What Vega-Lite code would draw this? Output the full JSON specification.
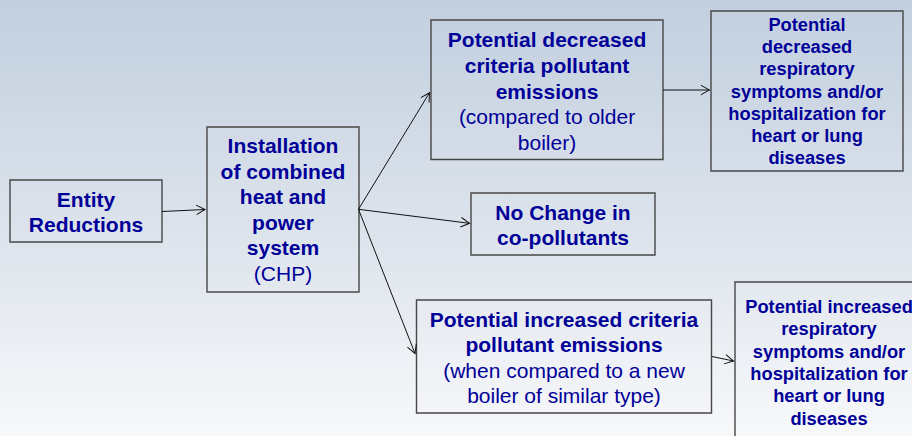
{
  "$schema": "https://vega.github.io/schema/vega-lite/v6.json",
  "width": 912,
  "height": 436,
  "autosize": {"type": "none"},
  "padding": 0,
  "config": {"view": {"stroke": null}},
  "datasets": {
    "boxes": [
      {"id": "entity", "x1": 10, "x2": 162, "y1": 180, "y2": 242},
      {"id": "chp", "x1": 207, "x2": 359, "y1": 127, "y2": 292},
      {"id": "dec_em", "x1": 431, "x2": 663, "y1": 20, "y2": 159.5},
      {"id": "dec_health", "x1": 711, "x2": 903, "y1": 11, "y2": 171},
      {"id": "nochange", "x1": 471, "x2": 655, "y1": 193, "y2": 255},
      {"id": "inc_em", "x1": 416.5, "x2": 711.5, "y1": 300, "y2": 413},
      {"id": "inc_health", "x1": 735, "x2": 925, "y1": 282, "y2": 445}
    ],
    "edges": [
      {"from": "entity", "to": "chp", "x1": 162, "y1": 211.5, "x2": 205, "y2": 209.5},
      {"from": "chp", "to": "dec_em", "x1": 358.5, "y1": 209.3, "x2": 429.5, "y2": 92.7},
      {"from": "chp", "to": "nochange", "x1": 358.5, "y1": 209.3, "x2": 469.5, "y2": 223.3},
      {"from": "chp", "to": "inc_em", "x1": 358.5, "y1": 209.3, "x2": 415, "y2": 353.5},
      {"from": "dec_em", "to": "dec_health", "x1": 663, "y1": 90, "x2": 709.5, "y2": 90},
      {"from": "inc_em", "to": "inc_health", "x1": 712, "y1": 356.5, "x2": 733.5, "y2": 361}
    ],
    "labels": [
      {"box": "entity", "kind": "head", "text": "Entity", "cx": 86, "cy": 200},
      {"box": "entity", "kind": "head", "text": "Reductions", "cx": 86, "cy": 224.5},
      {"box": "chp", "kind": "head", "text": "Installation", "cx": 283, "cy": 146},
      {"box": "chp", "kind": "head", "text": "of combined", "cx": 283, "cy": 171.5},
      {"box": "chp", "kind": "head", "text": "heat and", "cx": 283, "cy": 197},
      {"box": "chp", "kind": "head", "text": "power", "cx": 283, "cy": 222.5},
      {"box": "chp", "kind": "head", "text": "system", "cx": 283, "cy": 248},
      {"box": "chp", "kind": "note", "text": "(CHP)", "cx": 283, "cy": 273.5},
      {"box": "dec_em", "kind": "head", "text": "Potential decreased", "cx": 547, "cy": 40},
      {"box": "dec_em", "kind": "head", "text": "criteria pollutant", "cx": 547, "cy": 65.8},
      {"box": "dec_em", "kind": "head", "text": "emissions", "cx": 547, "cy": 91.6},
      {"box": "dec_em", "kind": "note", "text": " (compared to older", "cx": 547, "cy": 117.4},
      {"box": "dec_em", "kind": "note", "text": "boiler)", "cx": 547, "cy": 143.2},
      {"box": "dec_health", "kind": "small", "text": "Potential", "cx": 807, "cy": 25},
      {"box": "dec_health", "kind": "small", "text": "decreased", "cx": 807, "cy": 47.2},
      {"box": "dec_health", "kind": "small", "text": "respiratory", "cx": 807, "cy": 69.4},
      {"box": "dec_health", "kind": "small", "text": "symptoms and/or", "cx": 807, "cy": 91.6},
      {"box": "dec_health", "kind": "small", "text": "hospitalization for", "cx": 807, "cy": 113.8},
      {"box": "dec_health", "kind": "small", "text": "heart or lung", "cx": 807, "cy": 136},
      {"box": "dec_health", "kind": "small", "text": "diseases", "cx": 807, "cy": 158.2},
      {"box": "nochange", "kind": "head", "text": "No Change in", "cx": 563, "cy": 213},
      {"box": "nochange", "kind": "head", "text": "co-pollutants", "cx": 563, "cy": 238},
      {"box": "inc_em", "kind": "head", "text": "Potential increased criteria", "cx": 564, "cy": 319.5},
      {"box": "inc_em", "kind": "head", "text": "pollutant emissions", "cx": 564, "cy": 345},
      {"box": "inc_em", "kind": "note", "text": "(when compared to a new", "cx": 564, "cy": 370.7},
      {"box": "inc_em", "kind": "note", "text": "boiler of similar type)", "cx": 564, "cy": 396.2},
      {"box": "inc_health", "kind": "small", "text": "Potential increased", "cx": 829, "cy": 307},
      {"box": "inc_health", "kind": "small", "text": "respiratory", "cx": 829, "cy": 329.3},
      {"box": "inc_health", "kind": "small", "text": "symptoms and/or", "cx": 829, "cy": 351.6},
      {"box": "inc_health", "kind": "small", "text": "hospitalization for", "cx": 829, "cy": 373.9},
      {"box": "inc_health", "kind": "small", "text": "heart or lung", "cx": 829, "cy": 396.2},
      {"box": "inc_health", "kind": "small", "text": "diseases", "cx": 829, "cy": 418.5}
    ]
  },
  "layer": [
    {
      "data": {"values": [{"name": "background"}]},
      "mark": {
        "type": "rect",
        "fill": {
          "gradient": "linear",
          "x1": 0, "y1": 0, "x2": 0, "y2": 1,
          "stops": [
            {"offset": 0, "color": "#c2cfdf"},
            {"offset": 0.5, "color": "#dbe2eb"},
            {"offset": 1, "color": "#f7f8fa"}
          ]
        }
      },
      "encoding": {}
    },
    {
      "data": {"name": "boxes"},
      "mark": {"type": "rect", "fill": null, "fillOpacity": 0, "stroke": "#474747", "strokeWidth": 1.4},
      "encoding": {
        "x": {"field": "x1", "type": "quantitative", "scale": {"domain": [0, 912], "nice": false, "zero": false}, "axis": null},
        "x2": {"field": "x2"},
        "y": {"field": "y1", "type": "quantitative", "scale": {"domain": [0, 436], "nice": false, "zero": false, "reverse": true}, "axis": null},
        "y2": {"field": "y2"}
      }
    },
    {
      "data": {"name": "edges"},
      "mark": {"type": "rule", "color": "#111111", "strokeWidth": 1},
      "encoding": {
        "x": {"field": "x1", "type": "quantitative", "scale": {"domain": [0, 912], "nice": false, "zero": false}, "axis": null},
        "x2": {"field": "x2"},
        "y": {"field": "y1", "type": "quantitative", "scale": {"domain": [0, 436], "nice": false, "zero": false, "reverse": true}, "axis": null},
        "y2": {"field": "y2"}
      }
    },
    {
      "data": {"name": "edges"},
      "transform": [
        {"calculate": "atan2(datum.y2 - datum.y1, datum.x2 - datum.x1) * 180 / PI", "as": "angle"}
      ],
      "mark": {"type": "point", "shape": "M-1,-0.55L0,0L-1,0.55", "filled": false, "stroke": "#111111", "strokeWidth": 1, "size": 300, "opacity": 1},
      "encoding": {
        "x": {"field": "x2", "type": "quantitative", "scale": {"domain": [0, 912], "nice": false, "zero": false}, "axis": null},
        "y": {"field": "y2", "type": "quantitative", "scale": {"domain": [0, 436], "nice": false, "zero": false, "reverse": true}, "axis": null},
        "angle": {"field": "angle", "type": "quantitative", "scale": null}
      }
    },
    {
      "data": {"name": "labels"},
      "transform": [{"filter": "datum.kind === 'head'"}],
      "mark": {"type": "text", "font": "Liberation Sans", "fontSize": 21, "fontWeight": "bold", "color": "#000099", "align": "center", "baseline": "middle", "dy": 1},
      "encoding": {
        "x": {"field": "cx", "type": "quantitative", "scale": {"domain": [0, 912], "nice": false, "zero": false}, "axis": null},
        "y": {"field": "cy", "type": "quantitative", "scale": {"domain": [0, 436], "nice": false, "zero": false, "reverse": true}, "axis": null},
        "text": {"field": "text"}
      }
    },
    {
      "data": {"name": "labels"},
      "transform": [{"filter": "datum.kind === 'note'"}],
      "mark": {"type": "text", "font": "Liberation Sans", "fontSize": 21, "fontWeight": "normal", "color": "#000099", "align": "center", "baseline": "middle", "dy": 1},
      "encoding": {
        "x": {"field": "cx", "type": "quantitative", "scale": {"domain": [0, 912], "nice": false, "zero": false}, "axis": null},
        "y": {"field": "cy", "type": "quantitative", "scale": {"domain": [0, 436], "nice": false, "zero": false, "reverse": true}, "axis": null},
        "text": {"field": "text"}
      }
    },
    {
      "data": {"name": "labels"},
      "transform": [{"filter": "datum.kind === 'small'"}],
      "mark": {"type": "text", "font": "Liberation Sans", "fontSize": 18.3, "fontWeight": "bold", "color": "#000099", "align": "center", "baseline": "middle", "dy": 1},
      "encoding": {
        "x": {"field": "cx", "type": "quantitative", "scale": {"domain": [0, 912], "nice": false, "zero": false}, "axis": null},
        "y": {"field": "cy", "type": "quantitative", "scale": {"domain": [0, 436], "nice": false, "zero": false, "reverse": true}, "axis": null},
        "text": {"field": "text"}
      }
    }
  ]
}
